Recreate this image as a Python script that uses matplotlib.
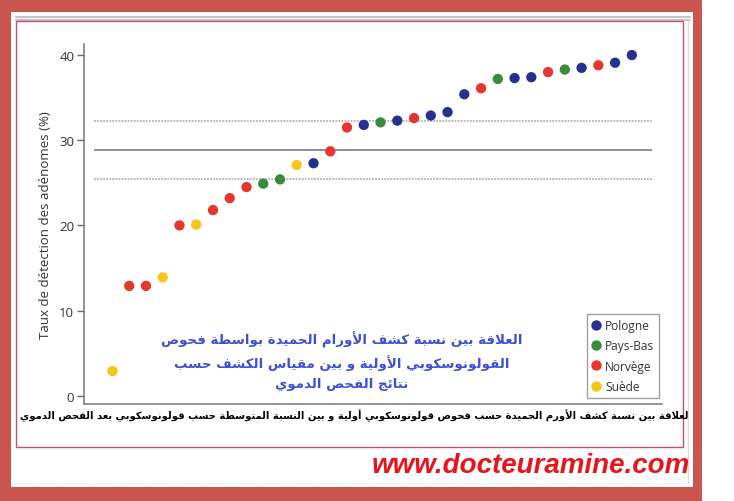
"""Rank plot of adenoma detection rates by country, with the page frame around it."""

import matplotlib
matplotlib.use("Agg")
import matplotlib.pyplot as plt
from matplotlib.lines import Line2D
from matplotlib.patches import Rectangle

FIG_W, FIG_H = 734, 502

# one point per centre, sorted by rate
RATES = [2.9, 12.9, 12.9, 13.9, 20.0, 20.1, 21.8, 23.2, 24.5, 24.9, 25.4,
         27.1, 27.3, 28.7, 31.5, 31.8, 32.1, 32.3, 32.6, 32.9, 33.3, 35.4,
         36.1, 37.2, 37.3, 37.4, 38.0, 38.3, 38.5, 38.8, 39.1, 40.0]
COUNTRIES = ["Suède", "Norvège", "Norvège", "Suède", "Norvège", "Suède",
             "Norvège", "Norvège", "Norvège", "Pays-Bas", "Pays-Bas", "Suède",
             "Pologne", "Norvège", "Norvège", "Pologne", "Pays-Bas", "Pologne",
             "Norvège", "Pologne", "Pologne", "Pologne", "Norvège", "Pays-Bas",
             "Pologne", "Pologne", "Norvège", "Pays-Bas", "Pologne", "Norvège",
             "Pologne", "Pologne"]

MEAN_RATE = 28.9
BAND_LOW = 25.4
BAND_HIGH = 32.3

LEGEND_ORDER = ["Pologne", "Pays-Bas", "Norvège", "Suède"]
COLORS = {
    "Pologne": "#28308e",
    "Pays-Bas": "#3a8a3c",
    "Norvège": "#e6352c",
    "Suède": "#f6c61c",
}

YLABEL = "Taux de détection des adénomes (%)"
BLUE_LINES = [
    "العلاقة بين نسبة كشف الأورام الحميدة بواسطة فحوص",
    "القولونوسكوبي الأولية و بين مقياس الكشف حسب",
    "نتائج الفحص الدموي",
]
CAPTION = ("لعلاقة بين نسبة كشف الأورم الحميدة حسب فحوص قولونوسكوبي أولية "
           "و بين النسبة المتوسطة حسب قولونوسكوبي بعد الفحص الدموي")
SITE = "www.docteuramine.com"

FRAME_RED = "#c9554e"
BORDER_PINK = "#c4506c"

# matplotlib has no arabic shaping: pick presentation forms by hand, then reverse
ARABIC_FORMS = {
    "ء": (0xFE80, 0), "آ": (0xFE81, 1), "أ": (0xFE83, 1), "ؤ": (0xFE85, 1),
    "إ": (0xFE87, 1), "ئ": (0xFE89, 2), "ا": (0xFE8D, 1), "ب": (0xFE8F, 2),
    "ة": (0xFE93, 1), "ت": (0xFE95, 2), "ث": (0xFE99, 2), "ج": (0xFE9D, 2),
    "ح": (0xFEA1, 2), "خ": (0xFEA5, 2), "د": (0xFEA9, 1), "ذ": (0xFEAB, 1),
    "ر": (0xFEAD, 1), "ز": (0xFEAF, 1), "س": (0xFEB1, 2), "ش": (0xFEB5, 2),
    "ص": (0xFEB9, 2), "ض": (0xFEBD, 2), "ط": (0xFEC1, 2), "ظ": (0xFEC5, 2),
    "ع": (0xFEC9, 2), "غ": (0xFECD, 2), "ف": (0xFED1, 2), "ق": (0xFED5, 2),
    "ك": (0xFED9, 2), "ل": (0xFEDD, 2), "م": (0xFEE1, 2), "ن": (0xFEE5, 2),
    "ه": (0xFEE9, 2), "و": (0xFEED, 1), "ى": (0xFEEF, 1), "ي": (0xFEF1, 2),
}
LAM_ALEF = {"ا": 0xFEFB, "أ": 0xFEF7, "إ": 0xFEF9, "آ": 0xFEF5}


def shape_arabic(text):
    units = []
    i = 0
    while i < len(text):
        c = text[i]
        if c == "ل" and i + 1 < len(text) and text[i + 1] in LAM_ALEF:
            units.append((c, LAM_ALEF[text[i + 1]], 1))
            i += 2
            continue
        if c in ARABIC_FORMS:
            base, join = ARABIC_FORMS[c]
            units.append((c, base, join))
        else:
            units.append((c, None, 0))
        i += 1

    out = []
    for k, (c, base, join) in enumerate(units):
        if base is None:
            out.append(c)
            continue
        prev_joins = k > 0 and units[k - 1][1] is not None and units[k - 1][2] == 2
        next_joins = (join == 2 and k + 1 < len(units)
                      and units[k + 1][1] is not None and units[k + 1][2] > 0)
        if join == 0:
            form = 0
        elif prev_joins and next_joins:
            form = 3
        elif next_joins:
            form = 2
        elif prev_joins:
            form = 1
        else:
            form = 0
        out.append(chr(base + form))
    return "".join(reversed(out))


def fx(x):
    return x / FIG_W


def fy(y):
    return 1 - y / FIG_H


def fit_width(fig, txt, target_px):
    """Shrink or grow a text so that it spans target_px pixels."""
    renderer = fig.canvas.get_renderer()
    width = txt.get_window_extent(renderer).width
    txt.set_fontsize(txt.get_fontsize() * target_px / width)


def draw_frame(fig):
    """Red page border, white sheet, grey rule and pink inner box."""
    fig.add_artist(Rectangle((0, fy(502)), fx(702), 1, transform=fig.transFigure,
                             facecolor=FRAME_RED, edgecolor="none", zorder=-5))
    fig.add_artist(Rectangle((fx(11), fy(488)), fx(693 - 11), (488 - 13) / FIG_H,
                             transform=fig.transFigure, facecolor="white",
                             edgecolor="none", zorder=-4))
    for y in (18, 21):
        fig.add_artist(Line2D([fx(16), fx(690)], [fy(y), fy(y)], transform=fig.transFigure,
                              color="#b9b9b9", linewidth=1.2, zorder=-3))
    fig.add_artist(Line2D([fx(688), fx(688)], [fy(20), fy(484)], transform=fig.transFigure,
                          color="#d8d8d8", linewidth=1.0, zorder=-3))
    fig.add_artist(Line2D([fx(16), fx(688)], [fy(484), fy(484)], transform=fig.transFigure,
                          color="#dddddd", linewidth=0.8, linestyle=":", zorder=-3))
    fig.add_artist(Rectangle((fx(16), fy(448)), fx(683 - 16), (448 - 22) / FIG_H,
                             transform=fig.transFigure, facecolor="none",
                             edgecolor=BORDER_PINK, linewidth=1.0, zorder=-2))


def main():
    fig = plt.figure(figsize=(FIG_W / 100, FIG_H / 100), dpi=100)
    fig.patch.set_facecolor("white")
    draw_frame(fig)

    ax = fig.add_axes([fx(84), 1 - 405 / FIG_H, (662 - 84) / FIG_W, (405 - 45) / FIG_H])
    ax.set_facecolor("none")

    ranks = list(range(len(RATES)))
    ax.hlines([BAND_HIGH, BAND_LOW], -1.1, 32.2, colors="#a8a2ab", linewidth=1.1,
              linestyles=(0, (1.2, 0.8)), zorder=1)
    ax.hlines(MEAN_RATE, -1.1, 32.2, colors="#8a8392", linewidth=1.3, zorder=1)
    ax.scatter(ranks, RATES, s=55, c=[COLORS[c] for c in COUNTRIES],
               edgecolors="none", zorder=3)

    ax.set_xlim(-1.7, 32.8)
    ax.set_ylim(-0.97, 41.3)
    ax.set_xticks([])
    ax.set_yticks([0, 10, 20, 30, 40])
    for side in ("top", "right"):
        ax.spines[side].set_visible(False)
    for side in ("left", "bottom"):
        ax.spines[side].set_color("#777777")
        ax.spines[side].set_linewidth(1.1)
    ax.tick_params(axis="y", length=5, width=1, color="#666666", labelsize=9.5,
                   labelcolor="#333333", pad=2)
    for lab in ax.get_yticklabels():
        lab.set_fontfamily("Open Sans")
    ax.set_ylabel(YLABEL, fontsize=9.5, color="#333333", family="Open Sans", labelpad=5)

    handles = [
        Line2D([0], [0], marker="o", linestyle="None", markersize=7.5,
               markerfacecolor=COLORS[name], markeredgecolor="none", label=name)
        for name in LEGEND_ORDER
    ]
    leg = fig.legend(handles=handles, loc="upper left",
                     bbox_to_anchor=(fx(587), fy(315)), bbox_transform=fig.transFigure,
                     frameon=True, fancybox=False, borderaxespad=0, handlelength=0.7,
                     handletextpad=0.4, labelspacing=0.62, borderpad=0.4,
                     prop={"family": "Open Sans", "size": 8.6})
    leg.get_frame().set_edgecolor("#888888")
    leg.get_frame().set_linewidth(1.0)
    for txt in leg.get_texts():
        txt.set_color("#333333")

    blue_texts = []
    for y, line in zip((340, 363, 385), BLUE_LINES):
        blue_texts.append(fig.text(fx(342), fy(y), shape_arabic(line), ha="center",
                                   va="center", fontsize=13, fontweight="bold",
                                   color="#3d4fd4", family="DejaVu Sans"))
    fit_width(fig, blue_texts[0], 360)
    for t in blue_texts[1:]:
        t.set_fontsize(blue_texts[0].get_fontsize())

    caption = fig.text(fx(689), fy(416), shape_arabic(CAPTION), ha="right", va="center",
                       fontsize=8.5, fontweight="bold", color="black", family="DejaVu Sans")
    fit_width(fig, caption, 668)

    fig.text(fx(690), fy(466), SITE, ha="right", va="center", fontsize=20,
             fontweight="bold", style="italic", color="#e8141c", family="Liberation Sans")

    fig.savefig("out.png", dpi=100)
    plt.close(fig)


if __name__ == "__main__":
    main()
